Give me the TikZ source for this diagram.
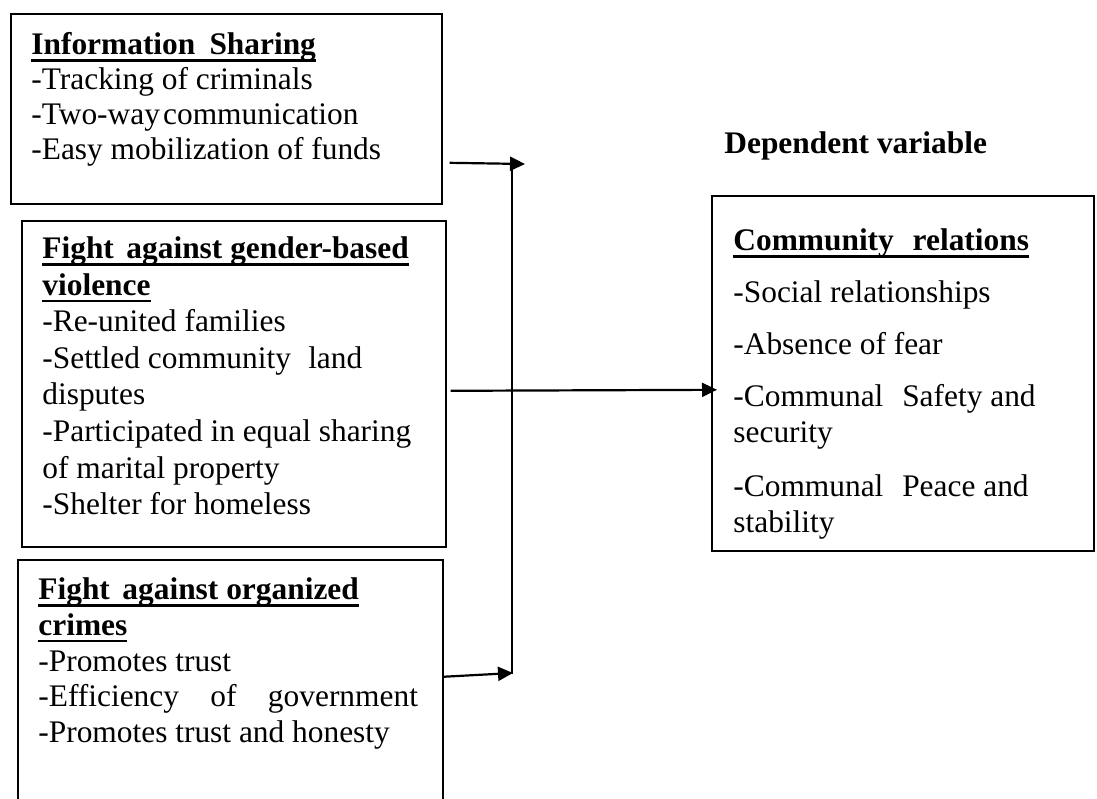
\documentclass[tikz,border=0pt]{standalone}
\usepackage{fontspec}
\setmainfont{Liberation Serif}
\usetikzlibrary{arrows.meta}

\newsavebox\hdbox
\newcommand{\hd}[1]{\sbox\hdbox{\bfseries #1}\rlap{\rule[-3.6pt]{\wd\hdbox}{1.2pt}}\usebox\hdbox}

\begin{document}
\begin{tikzpicture}[x=0.5pt,y=-0.5pt,
    box/.style={draw, rectangle, line width=0.8pt, anchor=north west, inner sep=0pt},
    txt/.style={anchor=north west, inner sep=0pt, align=left, font=\fontsize{15.7}{#1}\selectfont},
    txt/.default=17.5,
    flow/.style={-{Triangle[length=7.5pt,width=7pt]}, line width=1.1pt}]
    \clip (0,0) rectangle (1097,798);

    % boxes
    \node[box, minimum width=215.5pt, minimum height=95pt] (info) at (10,13) {};
    \node[box, minimum width=212pt, minimum height=163pt] (gender) at (21,220) {};
    \node[box, minimum width=212.5pt, minimum height=140pt] (crimes) at (17,559) {};
    \node[box, minimum width=191pt, minimum height=177.5pt] (relations) at (711,195) {};

    % box texts
    \node[txt=17.5] (infotxt) at (31,29.5) {\strut\hd{Information\hspace{0.45em}Sharing}\\
        -Tracking of criminals\\
        -Two-way\hspace{0.1em}communication\\
        -Easy mobilization of funds};
    \node[txt=18.3] (gendertxt) at (42,232.4) {\strut\hd{Fight\hspace{0.4em}against gender-based}\\
        \hd{violence}\\
        -Re-united families\\
        -Settled community\hspace{0.55em}land\\
        disputes\\
        -Participated in equal sharing\\
        of marital property\\
        -Shelter for homeless};
    \node[txt=17.9] (crimestxt) at (38,574) {\strut\hd{Fight\hspace{0.4em}against organized}\\
        \hd{crimes}\\
        -Promotes trust\\
        -Efficiency\hspace{1em}of\hspace{1em}government\\
        -Promotes trust and honesty};
    \node[txt=18] (relationstxt) at (733,224.8) {\strut\hd{Community\hspace{0.6em}relations}\\[8pt]
        -Social relationships\\[8pt]
        -Absence of fear\\[8pt]
        -Communal\hspace{0.6em}Safety and\\
        security\\[9pt]
        -Communal\hspace{0.6em}Peace and\\
        stability};
    \node[anchor=base west, inner sep=0pt, font=\fontsize{15.7}{18}\selectfont\bfseries] (dep) at (724,153) {Dependent variable};

    % joining line
    \coordinate (jtop) at (512,163);
    \coordinate (jbot) at (512,674);
    \draw[line width=0.8pt] (jtop) -- (jbot);

    % arrows
    \draw[flow] ([shift={(7,54)}]info.east) -- ([shift={(13,1)}]jtop);
    \draw[flow] ([shift={(4,7)}]gender.east) -- ([shift={(6,16.5)}]relations.west);
    \draw[flow] ([shift={(-1,-23)}]crimes.east) -- ([shift={(1,-1)}]jbot);
\end{tikzpicture}
\end{document}
